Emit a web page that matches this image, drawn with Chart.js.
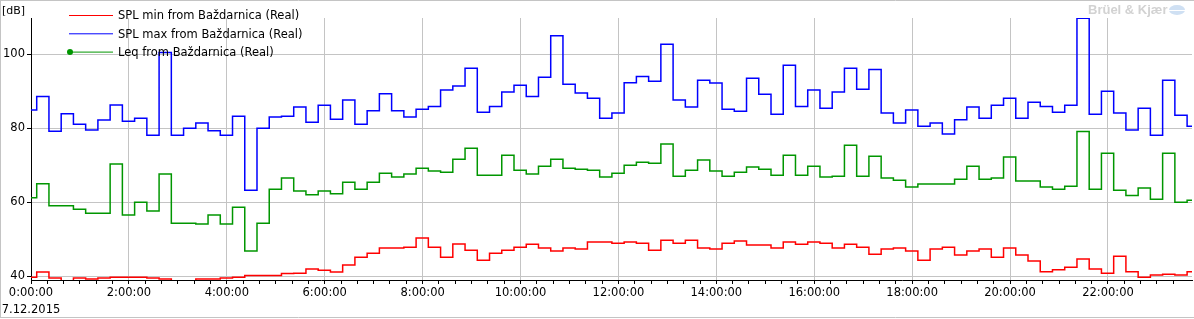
<!DOCTYPE html>
<html>
<head>
<meta charset="utf-8">
<script src="https://cdn.jsdelivr.net/npm/chart.js@4.4.0/dist/chart.umd.min.js"></script>
<style>
  html, body { margin: 0; padding: 0; background: #fff; }
</style>
</head>
<body>
<canvas id="chart" width="1194" height="319"></canvas>
<script>
// Time axis in minutes from 0:00:00 (7.12.2015), 15 min intervals
const dateLabel = '7.12.2015';
const firstStepMinute = 7;
const stepMinutes = 15;
const endMinute = 1423;

// SPL min (red)
const splMin = [
  39.7, 41.1, 39.5, 38.4, 39.5, 39.2, 39.5, 39.7, 39.7, 39.7, 39.5, 39.2, 38.4, 38.4, 39.2, 39.2,
  39.5, 39.7, 40.2, 40.2, 40.2, 40.7, 40.8, 41.9, 41.6, 41.1, 43.0, 45.1, 46.2, 47.6, 47.6, 47.8,
  50.3, 47.8, 45.1, 48.7, 47.0, 44.3, 46.2, 47.0, 47.8, 48.6, 47.6, 46.8, 47.6, 47.3, 49.2, 49.2,
  48.9, 49.2, 48.9, 47.0, 49.7, 48.9, 49.7, 47.6, 47.3, 48.9, 49.5, 48.4, 48.4, 47.6, 49.2, 48.6,
  49.2, 48.9, 47.6, 48.6, 47.8, 45.9, 47.3, 47.6, 46.8, 44.3, 47.3, 47.8, 45.7, 46.8, 47.3, 45.1,
  47.6, 45.7, 44.1, 41.2, 41.7, 42.4, 44.6, 41.9, 40.8, 45.4, 41.2, 39.7, 40.3, 40.5, 40.3, 41.2
];

// SPL max (blue)
const splMax = [
  84.9, 88.6, 79.2, 83.9, 81.1, 79.5, 82.2, 86.3, 81.9, 82.7, 78.1, 100.5, 78.1, 80.0, 81.4, 79.3,
  78.1, 83.2, 63.2, 80.0, 83.0, 83.2, 85.7, 81.6, 86.2, 82.4, 87.6, 81.1, 84.7, 89.3, 84.7, 83.0,
  85.1, 85.9, 90.3, 91.4, 96.2, 84.3, 85.9, 89.8, 91.6, 88.6, 93.8, 105.0, 91.9, 89.5, 88.1, 82.7,
  84.1, 92.3, 94.0, 92.7, 102.7, 87.6, 85.7, 93.0, 92.2, 85.1, 84.6, 93.5, 89.2, 83.8, 97.0, 85.9,
  90.3, 85.4, 89.8, 96.2, 90.5, 95.9, 84.1, 81.4, 84.9, 80.5, 81.4, 78.4, 82.3, 85.7, 82.7, 86.2,
  88.1, 82.7, 87.0, 85.9, 84.3, 86.2, 109.7, 83.8, 90.0, 84.1, 79.5, 85.4, 78.1, 93.0, 83.5, 80.5
];

// Leq (green)
const leq = [
  61.2, 65.0, 59.0, 59.0, 58.1, 57.0, 57.0, 70.3, 56.5, 60.0, 57.6, 67.6, 54.3, 54.3, 54.1, 56.5,
  54.1, 58.6, 46.8, 54.3, 63.5, 66.5, 63.0, 62.0, 63.0, 62.3, 65.4, 63.5, 65.4, 67.8, 66.8, 67.6,
  69.2, 68.4, 68.1, 71.6, 74.6, 67.3, 67.3, 72.7, 68.6, 67.6, 69.7, 71.6, 69.2, 68.9, 68.6, 66.8,
  67.8, 70.0, 70.8, 70.5, 75.7, 67.0, 68.6, 71.4, 68.4, 67.0, 68.1, 69.5, 68.9, 67.3, 72.7, 67.3,
  69.7, 66.8, 67.0, 75.4, 67.0, 72.4, 66.5, 65.9, 64.1, 64.9, 64.9, 64.9, 66.2, 69.7, 66.2, 66.5,
  72.2, 65.7, 65.7, 64.1, 63.5, 64.3, 79.1, 63.5, 73.2, 63.2, 61.8, 63.8, 60.8, 73.2, 60.0, 60.5
];

const yTicks = [40, 60, 80, 100];
const yMin = 38.95;
const yMax = 109.8;

// interval start times: 0:00, then 0:07, 0:22, ...
const startMinutes = splMin.map((v, i) => i === 0 ? 0 : firstStepMinute + (i - 1) * stepMinutes);

function toPoints(values) {
  const pts = values.map((v, i) => ({ x: startMinutes[i], y: v }));
  pts.push({ x: endMinute, y: values[values.length - 1] });
  return pts;
}

function timeLabel(min) {
  return Math.floor(min / 60) + ':00:00';
}

const FONT = 'DejaVu Sans';

// Legend, [dB] unit, watermark and frame
const decorPlugin = {
  id: 'decor',
  afterDraw(chart) {
    const c = chart.ctx;
    c.save();

    // frame
    c.strokeStyle = '#c4c4c4';
    c.lineWidth = 1;
    c.beginPath();
    c.moveTo(0, 0.5); c.lineTo(1194, 0.5);
    c.moveTo(0.5, 0); c.lineTo(0.5, 318);
    c.moveTo(0, 317.5); c.lineTo(1194, 317.5);
    c.stroke();

    // unit
    c.fillStyle = '#000';
    c.font = '11px "' + FONT + '"';
    c.textBaseline = 'middle';
    c.textAlign = 'left';
    c.fillText('[dB]', 2, 11);

    // legend
    c.font = '11.5px "' + FONT + '"';
    chart.data.datasets.forEach((ds, i) => {
      const y = 15.5 + i * 18.3;
      c.strokeStyle = ds.borderColor;
      c.lineWidth = 1;
      c.beginPath();
      c.moveTo(69, y);
      c.lineTo(113, y);
      c.stroke();
      if (ds.legendMarker) {
        c.fillStyle = ds.borderColor;
        c.beginPath();
        c.arc(70, y, 3, 0, Math.PI * 2);
        c.fill();
      }
      c.fillStyle = '#000';
      c.fillText(ds.label, 118, y + 1);
    });

    // watermark
    c.fillStyle = '#d2d2d2';
    c.font = 'bold 13px "Liberation Sans"';
    c.fillText('Brüel & Kjær', 1088, 10);
    c.fillStyle = '#cfe0f3';
    c.beginPath();
    c.ellipse(1177, 10, 8, 5, 0, 0, Math.PI * 2);
    c.fill();
    c.strokeStyle = '#ffffff';
    c.beginPath();
    c.moveTo(1168, 10.5); c.lineTo(1186, 10.5);
    c.stroke();

    c.restore();
  }
};

const ctx = document.getElementById('chart').getContext('2d');
new Chart(ctx, {
  type: 'line',
  data: {
    datasets: [
      { label: 'SPL min from Baždarnica (Real)', data: toPoints(splMin), borderColor: '#ff0000' },
      { label: 'SPL max from Baždarnica (Real)', data: toPoints(splMax), borderColor: '#0000ff' },
      { label: 'Leq from Baždarnica (Real)', data: toPoints(leq), borderColor: '#009600', legendMarker: true }
    ].map(ds => Object.assign(ds, {
      stepped: true,
      borderWidth: 1.5,
      pointRadius: 0,
      fill: false
    }))
  },
  options: {
    responsive: false,
    animation: false,
    events: [],
    layout: { padding: { top: 18, right: 2, left: 0, bottom: 0 } },
    plugins: {
      legend: { display: false },
      tooltip: { enabled: false }
    },
    scales: {
      x: {
        type: 'linear',
        min: 0,
        max: endMinute,
        afterBuildTicks: s => { s.ticks = s.ticks.filter(t => t.value % 20 === 0); },
        afterFit: s => { s.height = 39; },
        ticks: {
          stepSize: 20,
          autoSkip: false,
          maxRotation: 0,
          minRotation: 0,
          padding: 1,
          color: '#000',
          font: { family: FONT, size: 11.5, lineHeight: 1.45 },
          callback: v => {
            if (v === 0) return [timeLabel(v), dateLabel];
            return v % 120 === 0 ? timeLabel(v) : '';
          }
        },
        grid: {
          color: c => (c.tick && c.tick.value % 120 === 0) ? '#c4c4c4' : 'rgba(0,0,0,0)',
          tickColor: '#000',
          tickLength: 4
        },
        border: { color: '#000', width: 1 }
      },
      y: {
        min: yMin,
        max: yMax,
        afterBuildTicks: s => { s.ticks = yTicks.map(v => ({ value: v })); },
        afterFit: s => { s.width = 31; },
        ticks: {
          padding: 2,
          color: '#000',
          font: { family: FONT, size: 11.5 }
        },
        grid: {
          color: '#c4c4c4',
          tickColor: '#000',
          tickLength: 4
        },
        border: { color: '#000', width: 1 }
      }
    }
  },
  plugins: [decorPlugin]
});
</script>
</body>
</html>
